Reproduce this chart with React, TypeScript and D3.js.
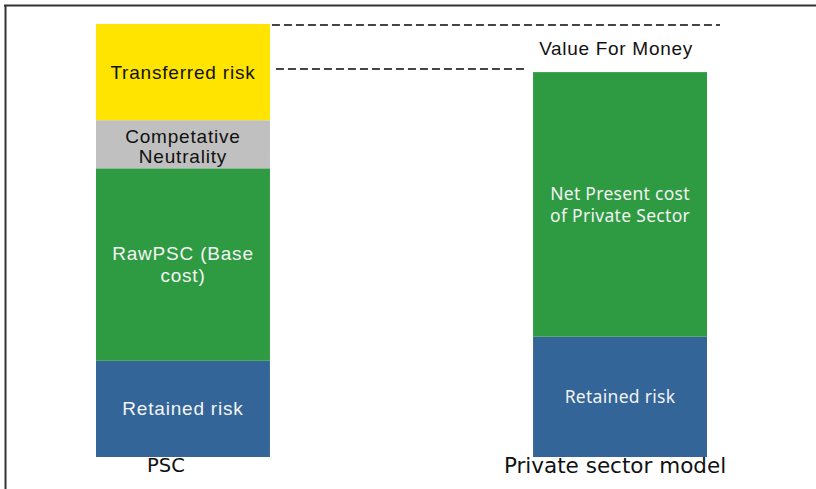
import React from "react";
import * as d3 from "d3";

const categories = ["PSC", "Private sector model"];
const pscSegments = [
  { name: "Retained risk", value: 2, lines: ["Retained risk"] },
  { name: "Raw PSC", value: 4, lines: ["RawPSC (Base", "cost)"] },
  { name: "Competative Neutrality", value: 1, lines: ["Competative", "Neutrality"] },
  { name: "Transferred risk", value: 2, lines: ["Transferred risk"] },
];
const privateSegments = [
  { name: "Retained risk", value: 2.5, lines: ["Retained risk"] },
  { name: "Net Present cost", value: 5.5, lines: ["Net Present cost", "of Private Sector"] },
];
const vfmLabel = "Value For Money";

const pscColors = ["#336598", "#2e9a42", "#c0c0c0", "#ffe400"];
const pscText = ["#f4f4f4", "#f4f4f4", "#111", "#111"];
const privColors = ["#336598", "#2e9a42"];

export default function App() {
  const W = 816, H = 489;
  const x = d3.scaleBand<string>().domain(categories).range([96, 707]).paddingInner(0.602).paddingOuter(0);
  const y = d3.scaleLinear().domain([0, 9]).range([457, 24]);
  const bw = x.bandwidth();

  const stack = (segs: { value: number }[]) => {
    let acc = 0;
    return segs.map((s) => {
      const y0 = acc;
      acc += s.value;
      return { y0, y1: acc };
    });
  };
  const pscStack = stack(pscSegments);
  const privStack = stack(privateSegments);

  const x0 = x(categories[0])!;
  const x1 = x(categories[1])!;
  const pscTotal = d3.sum(pscSegments, (d) => d.value);
  const privTotal = d3.sum(privateSegments, (d) => d.value);

  const arialFont = "Liberation Sans, Arial, sans-serif";
  const calFont = "Noto Sans, Open Sans, sans-serif";

  return (
    <svg width={W} height={H} style={{ position: "absolute", left: 0, top: 0, background: "#fff" }}>
      <rect width={W} height={H} fill="#fff" />
      {/* frame */}
      <line x1={4} x2={W} y1={5.5} y2={5.5} stroke="#333" strokeWidth={2} />
      <line x1={5.5} x2={5.5} y1={5} y2={H} stroke="#333" strokeWidth={2} />

      {/* PSC bar */}
      {pscSegments.map((s, i) => {
        const st = pscStack[i];
        const top = y(st.y1), bot = y(st.y0);
        const cy = (top + bot) / 2;
        const n = s.lines.length;
        const sp = i === 2 ? 20 : 22;
        return (
          <g key={"p" + i}>
            <rect x={x0} y={top} width={bw} height={bot - top} fill={pscColors[i]} />
            {s.lines.map((l, j) => (
              <text
                key={j}
                x={x0 + bw / 2}
                y={cy - ((n - 1) * sp) / 2 + j * sp + 6.5 + (i === 2 ? 2 : 0)}
                textAnchor="middle"
                fontFamily={arialFont}
                fontSize={19}
                letterSpacing={0.8}
                fill={pscText[i]}
              >
                {l}
              </text>
            ))}
          </g>
        );
      })}

      {/* Private bar */}
      {privateSegments.map((s, i) => {
        const st = privStack[i];
        const top = y(st.y1), bot = y(st.y0);
        const cy = (top + bot) / 2;
        const n = s.lines.length;
        return (
          <g key={"q" + i}>
            <rect x={x1} y={top} width={bw} height={bot - top} fill={privColors[i]} />
            {s.lines.map((l, j) => (
              <text
                key={j}
                x={x1 + bw / 2}
                y={cy - ((n - 1) * 22) / 2 + j * 22 + 6.5}
                textAnchor="middle"
                fontFamily={calFont}
                fontSize={17.5}
                letterSpacing={0.3}
                fill="#f2f2f2"
              >
                {l}
              </text>
            ))}
          </g>
        );
      })}

      {/* dashed lines */}
      <line x1={x0 + bw + 2} x2={720} y1={y(pscTotal) + 1} y2={y(pscTotal) + 1} stroke="#444" strokeWidth={2} strokeDasharray="8,4" />
      <line x1={x0 + bw + 6} x2={x1 - 6} y1={y(privTotal) - 3} y2={y(privTotal) - 3} stroke="#444" strokeWidth={2} strokeDasharray="8,4" />

      <text x={x1 + bw / 2 - 4} y={55} textAnchor="middle" fontFamily={arialFont} fontSize={19} letterSpacing={0.7} fill="#111">
        {vfmLabel}
      </text>

      {/* category labels */}
      <text x={x0 + bw / 2 - 17} y={472} textAnchor="middle" fontFamily="DejaVu Sans, sans-serif" fontSize={19.5} fill="#111">
        {categories[0]}
      </text>
      <text x={x1 + bw / 2 - 5} y={473} textAnchor="middle" fontFamily="DejaVu Sans, sans-serif" fontSize={21.5} fill="#111">
        {categories[1]}
      </text>
    </svg>
  );
}
